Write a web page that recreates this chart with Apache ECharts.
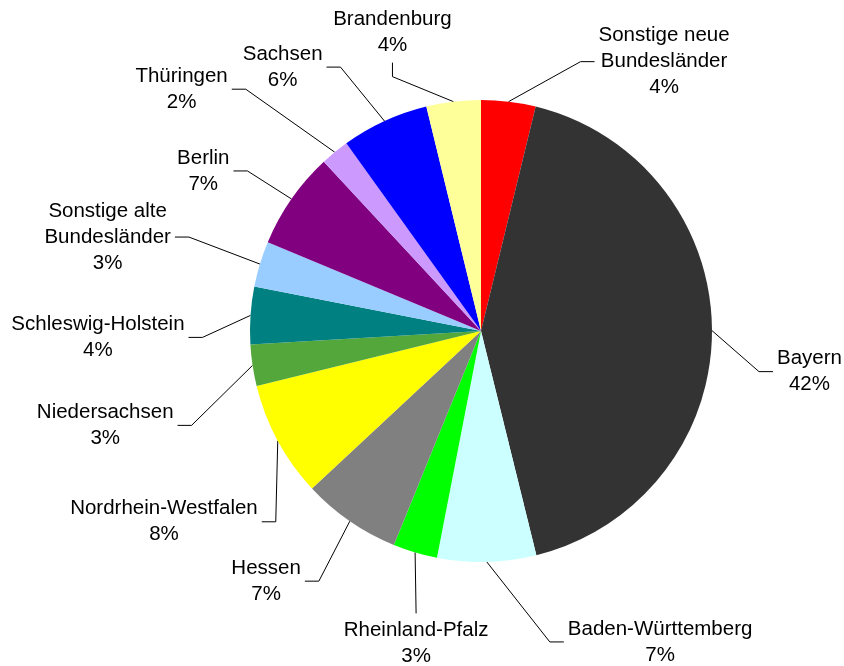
<!DOCTYPE html>
<html>
<head>
<meta charset="utf-8">
<script src="https://cdn.jsdelivr.net/npm/echarts@6/dist/echarts.min.js"></script>
<style>
html, body { margin: 0; padding: 0; background: #ffffff; }
#chart { width: 844px; height: 666px; }
</style>
</head>
<body>
<div id="chart"></div>
<script>
// ---- data ----
const categories = [
  'Sonstige neue\nBundesländer', 'Bayern', 'Baden-Württemberg', 'Rheinland-Pfalz',
  'Hessen', 'Nordrhein-Westfalen', 'Niedersachsen', 'Schleswig-Holstein',
  'Sonstige alte\nBundesländer', 'Berlin', 'Thüringen', 'Sachsen', 'Brandenburg'
];
const values = [3.8, 42.3, 6.9, 3.1, 6.9, 8.1, 2.9, 4.0, 3.2, 6.8, 2.0, 6.1, 3.8];

// ---- styles ----
const colors = [
  '#ff0000', '#333333', '#ccffff', '#00ff00', '#808080', '#ffff00', '#54a83b',
  '#008080', '#99ccff', '#800080', '#cc99ff', '#0000ff', '#ffff99'
];
// leader line bend, relative to the slice's outer edge point, and the side the label sits on
const leaderBend = [
  [72, -40], [47, 41], [63, 80], [1, 61], [-31, 60], [-2, 81], [-61, 60],
  [-48, 22], [-71, -27], [-44, -28], [-89, -63], [-44, -54], [-61, -25]
];
const leaderSide = ['r', 'r', 'r', 'b', 'l', 'l', 'l', 'l', 'l', 'l', 'l', 'l', 't'];
const SEG = 14, GAP = 4;

const chart = echarts.init(document.getElementById('chart'), null, { renderer: 'canvas' });
chart.setOption({
  animation: false,
  backgroundColor: '#ffffff',
  series: [{
    type: 'pie',
    center: [481, 331],
    radius: 231,
    startAngle: 90,
    clockwise: true,
    avoidLabelOverlap: false,
    silent: true,
    emphasis: { disabled: true, scale: false },
    itemStyle: { borderWidth: 0 },
    data: categories.map((name, i) => ({
      name: name,
      value: values[i],
      itemStyle: { color: colors[i] }
    })),
    percentPrecision: 0,
    label: {
      show: true,
      position: 'outside',
      formatter: '{b}\n{d}%',
      color: '#000000',
      fontFamily: '"Liberation Sans", Arial, sans-serif',
      fontSize: 20.5,
      lineHeight: 26,
      align: 'center'
    },
    labelLine: {
      show: true,
      length: 10,
      length2: 10,
      smooth: false,
      lineStyle: { color: '#000000', width: 1 }
    },
    labelLayout: function (p) {
      const i = p.dataIndex;
      const s = p.labelLinePoints[0];
      const b = [s[0] + leaderBend[i][0], s[1] + leaderBend[i][1]];
      const w = p.labelRect.width, h = p.labelRect.height;
      let e, x, y;
      switch (leaderSide[i]) {
        case 'r': e = [b[0] + SEG, b[1]]; x = e[0] + GAP + w / 2; y = b[1]; break;
        case 'l': e = [b[0] - SEG, b[1]]; x = e[0] - GAP - w / 2; y = b[1]; break;
        case 'b': e = [b[0], b[1]]; x = b[0]; y = b[1] + GAP + h / 2; break;
        default:  e = [b[0], b[1] - SEG]; x = e[0]; y = e[1] - GAP - h / 2; break;
      }
      return {
        x: x, y: y, align: 'center', verticalAlign: 'middle',
        labelLinePoints: [s, b, e]
      };
    }
  }]
});
</script>
</body>
</html>
